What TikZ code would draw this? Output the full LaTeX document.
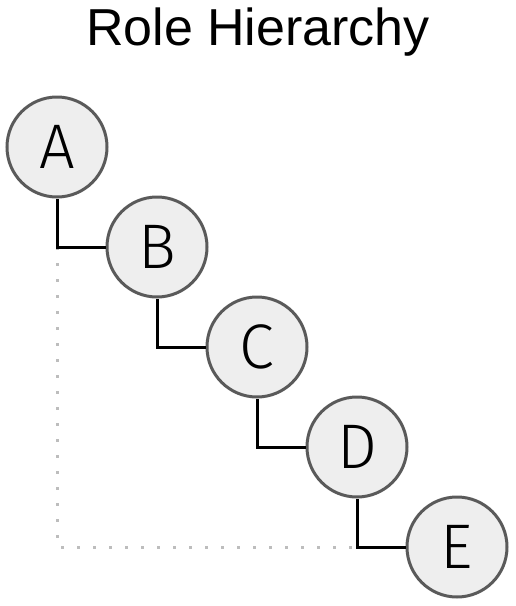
\documentclass[tikz,border=0pt]{standalone}
\usepackage{fontspec}
\setmainfont{Liberation Sans}
\newfontfamily\roleFont{Fira Sans Light}
\usepackage{tikz}
\usetikzlibrary{calc, positioning}
\definecolor{roleFill}{HTML}{EEEEEE}
\definecolor{roleEdge}{HTML}{5A5A5A}
\definecolor{dotGray}{HTML}{BDBDBD}
\definecolor{textColor}{HTML}{000000}

\begin{document}
\begin{tikzpicture}[
        x=1pt, y=-1pt,
        roleNode/.style={circle, draw=roleEdge, fill=roleFill, line width=3pt, minimum size=100pt, inner sep=0pt, text=textColor, font=\roleFont\fontsize{63}{63}\selectfont},
        roleLink/.style={textColor, line width=3pt},
        inheritLine/.style={dotGray, line width=3pt, dash pattern=on 3pt off 13pt}
    ]
        \useasboundingbox (0,0) rectangle (516,606);

        % Title
        \node[anchor=base, font=\fontsize{52}{52}\selectfont] (title) at (258,45) {Role Hierarchy};

        % Roles
        \node[roleNode] (A) at (57,147) {A};
        \node[roleNode] (B) at (157,247) {B};
        \node[roleNode] (C) at (257,347) {C};
        \node[roleNode] (D) at (357,447) {D};
        \node[roleNode] (E) at (457,547) {E};

        % Dotted inheritance line
        \coordinate (topCorner) at (A.south |- B.west);
        \coordinate (lowCorner) at (topCorner |- E.west);
        \draw[inheritLine] (topCorner) -- (lowCorner) -- (D.south |- E.west);

        % Links
        \foreach \up/\down in {A/B, B/C, C/D, D/E}
            \draw[roleLink] (\up.south) |- (\down.west);
    \end{tikzpicture}
\end{document}
